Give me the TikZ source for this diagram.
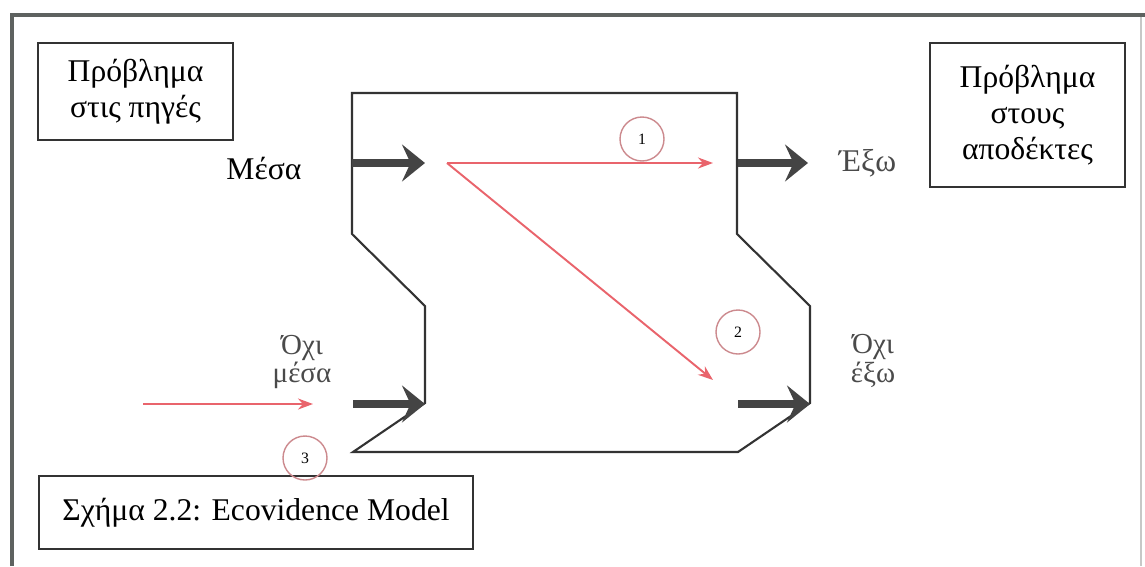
\documentclass[tikz,border=0pt]{standalone}
\usepackage{fontspec}
\setmainfont{Liberation Serif}
\usetikzlibrary{
  positioning,
  arrows.meta
}
\definecolor{framegray}{HTML}{5E6260}
\definecolor{edgegray}{HTML}{333333}
\definecolor{flowgray}{HTML}{444444}
\definecolor{pathred}{HTML}{E9646C}
\definecolor{ringred}{HTML}{CC8A8E}
\definecolor{labelgray}{HTML}{4A4A4A}
\providecommand{\bigtxt}{\fontsize{18}{20.5}\selectfont}
\providecommand{\midtxt}{\fontsize{16.5}{16}\selectfont}
\tikzset{probbox/.style={
  draw=edgegray, line width=1.1pt,
  minimum width=3.9cm,
  align=center,
  font=\bigtxt
}}
\tikzset{outline/.style={draw=edgegray, line width=1.2pt, line join=miter}}
\tikzset{flow/.style={
  draw=flowgray, line width=4pt,
  -{Stealth[length=0.46cm,width=0.74cm,inset=0.17cm]}
}}
\tikzset{redpath/.style={
  draw=pathred, line width=1.1pt,
  -{Stealth[length=0.3cm,width=0.22cm]}
}}
\tikzset{ring/.style={
  circle, draw=ringred, line width=0.8pt,
  minimum size=0.88cm, inner sep=0pt,
  font=\fontsize{9}{9}\selectfont
}}

\begin{document}
\begin{tikzpicture}[x=0.02cm,y=-0.02cm]
    \useasboundingbox (0,0) rectangle (1145,566);
    % frame
    \draw [framegray,line width=2.8pt] (12,566) -- (12,15) -- (1145,15);
    \draw [framegray!35,line width=0.6pt] (1141,17) -- (1141,566);
    % the two problem boxes and the caption
    \node (sources) [probbox,minimum height=1.94cm] at (135.5,91.5) {Πρόβλημα\\στις πηγές};
    \node (receivers) [probbox,minimum height=2.88cm] at (1027.5,115) {Πρόβλημα\\στους\\αποδέκτες};
    \node (caption) [probbox,minimum width=8.68cm,minimum height=1.46cm] at (256,512.5) {Σχήμα 2.2: Ecovidence Model};
    % outline of the system
    \draw [outline] (352,93) -- (737,93) -- (737,234) -- (810,306) -- (810,403)
      -- (738,452) -- (353,452) -- (425,403) -- (425,306) -- (352,234) -- cycle;
    % thick flows
    \coordinate (inA) at (352,163);
    \coordinate (inB) at (425,163);
    \coordinate (outA) at (738,163);
    \coordinate (outB) at (808,163);
    \coordinate (notinA) at (353,404);
    \coordinate (notinB) at (425,404);
    \coordinate (notoutA) at (738,404);
    \coordinate (notoutB) at (810,404);
    \draw [flow] (inA) -- (inB);
    \draw [flow] (outA) -- (outB);
    \draw [flow] (notinA) -- (notinB);
    \draw [flow] (notoutA) -- (notoutB);
    % labels of the flows
    \node (inlbl) [font=\bigtxt] at (264,168) {Μέσα};
    \node (outlbl) [font=\bigtxt,text=labelgray,right=0.5cm of outB] {Έξω};
    \node (notinlbl) [font=\midtxt,text=labelgray,align=center] at (302,362) {Όχι\\μέσα};
    \node (notoutlbl) [font=\midtxt,text=labelgray,align=center] at (873,361) {Όχι\\έξω};
    % red paths
    \coordinate (split) at (447,163);
    \coordinate (hit) at (713,163);
    \coordinate (miss) at (713,380);
    \coordinate (lostA) at (143,404);
    \coordinate (lostB) at (313,404);
    \draw [redpath] (split) -- (hit);
    \draw [redpath] (split) -- (miss);
    \draw [redpath] (lostA) -- (lostB);
    % numbered cases
    \node (caseA) [ring] at (642,139) {1};
    \node (caseB) [ring] at (738,332) {2};
    \node (caseC) [ring] at (305,458) {3};
  \end{tikzpicture}
\end{document}
